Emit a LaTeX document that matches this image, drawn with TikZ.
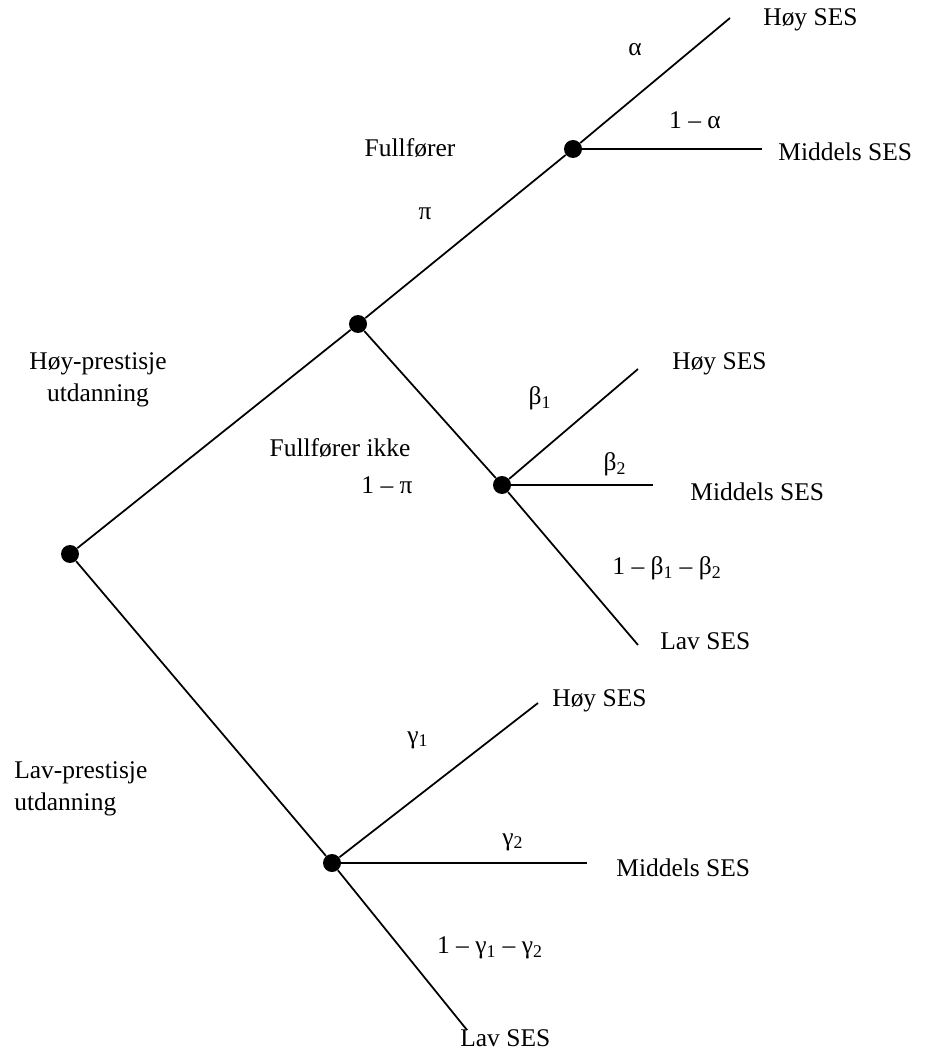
\documentclass[tikz,border=0pt]{standalone}
\usepackage{fontspec}
\setmainfont{Liberation Serif}
\usetikzlibrary{positioning}
\tikzset{
      branch/.style = {black, line width=1pt},
      dot/.style = {circle, fill=black, inner sep=0pt, minimum size=0.36cm},
      lbl/.style = {inner sep=0pt, font=\fontsize{14.5}{18}\selectfont},
    }

\begin{document}
\begin{tikzpicture}[x=0.02cm,y=-0.02cm]
        \useasboundingbox (0,0) rectangle (924,1050);
        % branch points
        \node[dot] (1) at (70,554) {};
        \node[dot] (2) at (358,324) {};
        \node[dot] (3) at (573,149) {};
        \node[dot] (4) at (502,485) {};
        \node[dot] (5) at (332,863) {};
        % loose ends
        \coordinate (3a) at (730,18);
        \coordinate (3b) at (762,149);
        \coordinate (4a) at (638,369);
        \coordinate (4b) at (653,485);
        \coordinate (4c) at (638,645);
        \coordinate (5a) at (538,703);
        \coordinate (5b) at (587,863);
        \coordinate (5c) at (467,1030);

        \path (1) edge[branch] (2);
        \path (1) edge[branch] (5);
        \path (2) edge[branch] (3);
        \path (2) edge[branch] (4);
        \path (3) edge[branch] (3a);
        \path (3) edge[branch] (3b);
        \path (4) edge[branch] (4a);
        \path (4) edge[branch] (4b);
        \path (4) edge[branch] (4c);
        \path (5) edge[branch] (5a);
        \path (5) edge[branch] (5b);
        \path (5) edge[branch] (5c);

        % outcomes
        \node[lbl, anchor=west] (hi3) at (763,20) {Høy SES};
        \node[lbl, anchor=west] (mid3) at (778,152) {Middels SES};
        \node[lbl, anchor=west] (hi4) at (672,364) {Høy SES};
        \node[lbl, anchor=west] (mid4) at (690,492) {Middels SES};
        \node[lbl, anchor=west] (lo4) at (660,641) {Lav SES};
        \node[lbl, anchor=west] (hi5) at (552,701) {Høy SES};
        \node[lbl, anchor=west] (mid5) at (616,868) {Middels SES};
        \node[lbl, anchor=west] (lo5) at (460,1038) {Lav SES};

        % probabilities
        \node[lbl] (pa) at (635,50) {α};
        \node[lbl] (pna) at (695,120) {1 – α};
        \node[lbl] (fin) at (410,148) {Fullfører};
        \node[lbl] (ppi) at (425,214) {π};
        \node[lbl] (nfin) at (340,448) {Fullfører ikke};
        \node[lbl] (npi) at (387,485) {1 – π};
        \node[lbl] (pb1) at (540,398) {β\textsubscript{1}};
        \node[lbl] (pb2) at (615,464) {β\textsubscript{2}};
        \node[lbl] (pb3) at (667,568) {1 – β\textsubscript{1} – β\textsubscript{2}};
        \node[lbl] (pg1) at (418,740) {γ\textsubscript{1}};
        \node[lbl] (pg2) at (513,842) {γ\textsubscript{2}};
        \node[lbl] (pg3) at (490,948) {1 – γ\textsubscript{1} – γ\textsubscript{2}};

        % education
        \node[lbl, align=center] (hiedu) at (98,380) {Høy-prestisje\\utdanning};
        \node[lbl, align=left, anchor=west] (loedu) at (14,789) {Lav-prestisje\\utdanning};
\end{tikzpicture}
\end{document}
